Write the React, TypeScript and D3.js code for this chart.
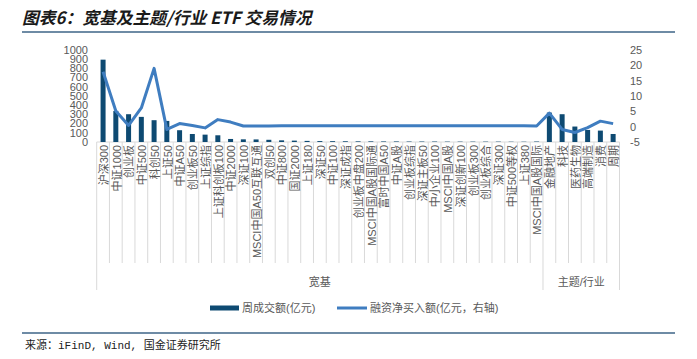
import React from "react";
import * as d3 from "d3";

const categories = [
  "沪深300", "中证1000", "创业板", "中证500", "科创50", "上证50", "中证A50", "创业板50", "上证综指",
  "上证科创板100", "中证2000", "深证100", "MSCI中国A50互联互通", "双创50", "中证800", "国证2000",
  "上证180", "深证50", "中证100", "深证成指", "创业板中盘200", "MSCI中国A股国际通", "富时中国A50",
  "中证A股", "创业板综指", "深证主板50", "中小企业100", "MSCI中国A股", "深证创新100", "创业板300",
  "创业板综合", "深证300", "中证500等权", "上证380", "MSCI中国A股国际",
  "金融地产", "科技", "医药生物", "高端制造", "消费", "周期",
];
const groups = [
  { name: "宽基", count: 35 },
  { name: "主题/行业", count: 6 },
];
const turnover = [
  895, 338, 302, 273, 237, 229, 128, 87, 80, 73, 33, 29, 28, 24, 18, 15,
  12, 10, 9, 8, 7, 7, 6, 6, 5, 5, 5, 4, 4, 4, 4, 4, 3, 3, 5,
  320, 302, 168, 131, 124, 87,
];
const netBuy = [
  17.9, 5.1, 0.4, 6.1, 19.0, -0.9, 1.0, 0.4, -0.4, 2.3, 1.5, 0.2, 0.2, 0.2, 0.3, 0.3,
  0.3, 0.3, 0.3, 0.3, 0.3, 0.3, 0.3, 0.3, 0.3, 0.3, 0.3, 0.3, 0.3, 0.3, 0.3, 0.3, 0.3, 0.3, 0.2,
  4.4, -0.9, -1.9, -0.3, 1.8, 1.0,
];
const leftTicks = [0, 100, 200, 300, 400, 500, 600, 700, 800, 900, 1000];
const rightTicks = [-5, 0, 5, 10, 15, 20, 25];

const W = 697;
const H = 359;
const x0 = 96.7;
const x1 = 619.5;
const yTop = 50;
const yBot = 142;
const barColor = "#0e4a72";
const lineColor = "#3f7dc0";
const gridColor = "#d9d9d9";
const textColor = "#595959";
const font = "'Liberation Sans', Arial, 'Noto Sans CJK SC', sans-serif";

export default function App() {
  const x = d3.scaleBand<number>().domain(d3.range(categories.length)).range([x0, x1]).padding(0);
  const yL = d3.scaleLinear().domain([0, 1000]).range([yBot, yTop]);
  const yR = d3.scaleLinear().domain([-5, 25]).range([yBot, yTop]);
  const step = x.step();
  const barW = 5;
  const cx = (i: number) => (x(i) as number) + step / 2;
  const line = d3
    .line<number>()
    .x((_, i) => cx(i))
    .y((d) => yR(d));

  let acc = 0;
  const groupBounds = groups.map((g) => {
    const start = acc;
    acc += g.count;
    return { ...g, start, end: acc };
  });
  const boundarySet = new Set<number>([0, ...groupBounds.map((g) => g.end)]);

  return (
    <svg width={W} height={H} style={{ position: "absolute", left: 0, top: 0, background: "#fff" }}>
      {/* title */}
      <text
        x={22}
        y={24}
        fontFamily="'Noto Sans CJK SC', sans-serif"
        fontSize={16.8}
        fontWeight="bold"
        fontStyle="italic"
        fill="#1a1a1a"
      >
        图表6：宽基及主题/行业 ETF 交易情况
      </text>
      <line x1={22} x2={675} y1={32} y2={32} stroke="#3e6487" strokeWidth={1.5} />

      {/* category tick lines */}
      {d3.range(categories.length + 1).map((i) => {
        const xx = i < categories.length ? (x(i) as number) : x1;
        const isB = boundarySet.has(i);
        return (
          <line key={"t" + i} x1={xx} x2={xx} y1={yBot} y2={isB ? 290 : 263} stroke={gridColor} strokeWidth={1} />
        );
      })}
      <line x1={x0} x2={x1} y1={yBot} y2={yBot} stroke={gridColor} strokeWidth={1} />

      {/* bars */}
      {turnover.map((v, i) => (
        <rect key={"b" + i} x={cx(i) - barW / 2} y={yL(v)} width={barW} height={yBot - yL(v)} fill={barColor} />
      ))}

      {/* line */}
      <path d={line(netBuy) || ""} fill="none" stroke={lineColor} strokeWidth={3} strokeLinejoin="round" />

      {/* left axis */}
      {leftTicks.map((t) => (
        <text key={"l" + t} x={88} y={yL(t)} dy="0.35em" textAnchor="end" fontFamily={font} fontSize={11} fill={textColor}>
          {t}
        </text>
      ))}
      {/* right axis */}
      {rightTicks.map((t) => (
        <text key={"r" + t} x={630} y={yR(t)} dy="0.35em" textAnchor="start" fontFamily={font} fontSize={11} fill={textColor}>
          {t}
        </text>
      ))}

      {/* category labels */}
      {categories.map((c, i) => (
        <text
          key={"c" + i}
          transform={`translate(${cx(i) + 1},${yBot + 3}) rotate(-90)`}
          dy="0.35em"
          textAnchor="end"
          fontFamily={font}
          fontSize={11}
          fill={textColor}
        >
          {c}
        </text>
      ))}

      {/* group labels */}
      {groupBounds.map((g) => {
        const gx0 = x(g.start) as number;
        const gx1 = g.end < categories.length ? (x(g.end) as number) : x1;
        return (
          <text key={g.name} x={(gx0 + gx1) / 2} y={282} dy="0.35em" textAnchor="middle" fontFamily={font} fontSize={11} fill={textColor}>
            {g.name}
          </text>
        );
      })}

      {/* legend */}
      <rect x={210} y={305.5} width={29} height={5} fill={barColor} />
      <text x={242} y={308} dy="0.35em" fontFamily={font} fontSize={11} fill={textColor}>
        周成交额(亿元)
      </text>
      <line x1={337} x2={367} y1={308} y2={308} stroke={lineColor} strokeWidth={3} />
      <text x={370} y={308} dy="0.35em" fontFamily={font} fontSize={11} fill={textColor}>
        融资净买入额(亿元，右轴)
      </text>

      {/* source */}
      <line x1={22} x2={675} y1={333} y2={333} stroke="#3e6487" strokeWidth={1.5} />
      <text x={25} y={345} dy="0.35em" fontFamily="'Liberation Mono', 'Noto Sans CJK SC', monospace" fontSize={11} fill="#222">
        来源：iFinD, Wind, 国金证券研究所
      </text>
    </svg>
  );
}
